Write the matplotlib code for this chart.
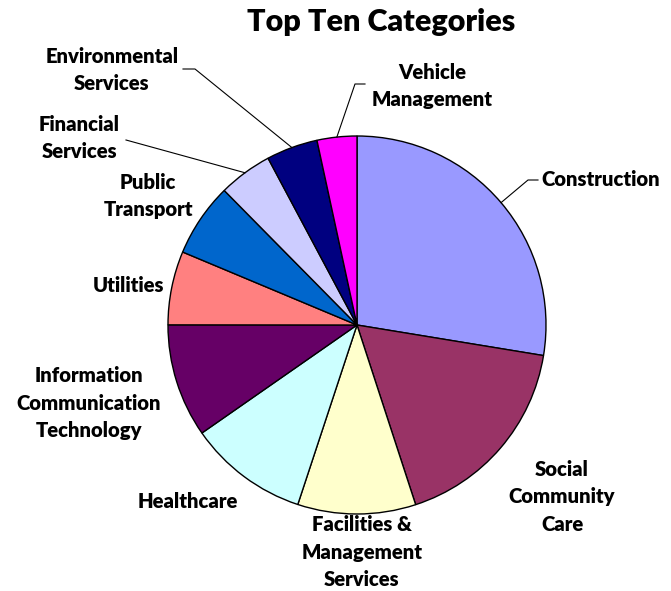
import matplotlib
matplotlib.use("Agg")
import matplotlib.pyplot as plt
import numpy as np

plt.rcParams['font.family'] = ['Lato', 'DejaVu Sans']

# slices, clockwise from 12 o'clock
categories = ["Construction", "Social\nCommunity\nCare",
              "Facilities &\nManagement\nServices", "Healthcare",
              "Information\nCommunication\nTechnology", "Utilities",
              "Public\nTransport", "Financial\nServices",
              "Environmental\nServices", "Vehicle\nManagement"]
shares = [27.6, 17.4, 10.1, 10.25, 9.7, 6.3, 6.3, 4.6, 4.4, 3.4]
colours = ["#9999FF", "#993366", "#FFFFCC", "#CCFFFF", "#660066",
           "#FF8080", "#0066CC", "#CCCCFF", "#000080", "#FF00FF"]

# label centres in pixels (x from left, y from top)
label_pos = [(541, 180), (562, 497), (362, 552), (188, 501), (89, 403),
             (128, 286), (148, 196), (79, 138), (112, 70), (432, 86)]
label_ha = ["left", "center", "center", "center", "center",
            "center", "center", "center", "center", "center"]
# leader lines: (x where the short flat part starts, its end, y) or None
leaders = [(538, 528, 180), None, None, None, None, None, None,
           (126, 126, 140), (183, 195, 69), (365, 355, 84)]

W, H = 671, 591
cx, cy, r = 357, H - 325, 189

fig = plt.figure(figsize=(6.71, 5.91), dpi=100)
ax = fig.add_axes([0, 0, 1, 1])

wedges, _ = ax.pie(shares, colors=colours, startangle=90, counterclock=False,
                   center=(cx, cy), radius=r, frame=True,
                   wedgeprops=dict(edgecolor="black", linewidth=1.0))
ax.set_xlim(0, W)
ax.set_ylim(0, H)
ax.set_aspect('equal')
ax.axis('off')

for w, lab, (lx, ly), ha, ld in zip(wedges, categories, label_pos,
                                    label_ha, leaders):
    ax.text(lx, H - ly, lab, ha=ha, va="center", fontsize=14.6,
            fontweight="heavy", linespacing=1.55)
    if ld is not None:
        mid = np.deg2rad((w.theta1 + w.theta2) / 2)
        px, py = cx + r * np.cos(mid), cy + r * np.sin(mid)
        x0, x1, yy = ld
        ax.plot([x0, x1, px], [H - yy, H - yy, py], color="black", lw=0.8)

fig.text(381 / W, 1 - 22 / H, "Top Ten Categories", ha="center", va="center",
         fontsize=22, fontweight="heavy")

fig.savefig("out.png", dpi=100)
